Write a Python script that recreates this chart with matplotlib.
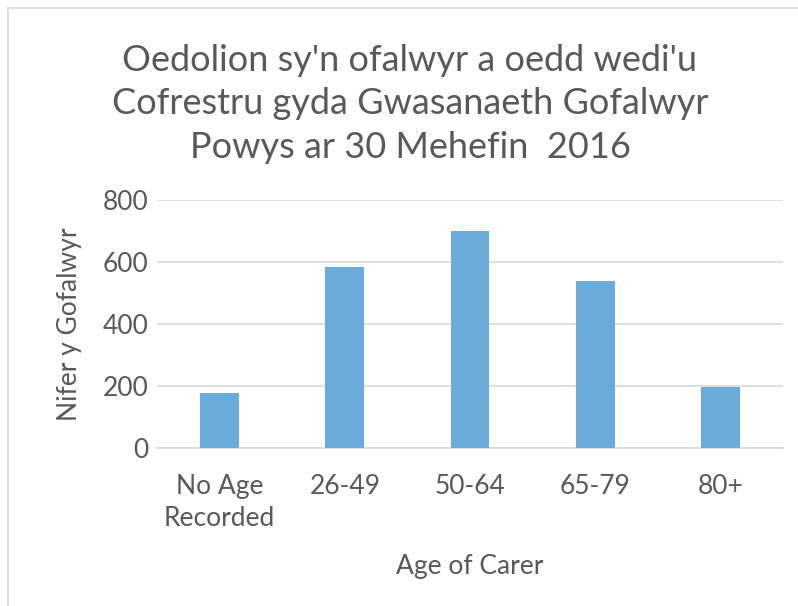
import matplotlib
matplotlib.use('Agg')
import matplotlib.pyplot as plt
from matplotlib.patches import Rectangle

plt.rcParams['font.family'] = ['Lato', 'DejaVu Sans']

categories = ['No Age\nRecorded', '26-49', '50-64', '65-79', '80+']
values = [177, 584, 700, 538, 198]
yticks = [0, 200, 400, 600, 800]

title = "Oedolion sy'n ofalwyr a oedd wedi'u\nCofrestru gyda Gwasanaeth Gofalwyr\nPowys ar 30 Mehefin  2016"
xlabel = 'Age of Carer'
ylabel = 'Nifer y Gofalwyr'

txt = '#595959'
grid = '#d9d9d9'

fig = plt.figure(figsize=(7.98, 6.06), dpi=100)
ax = fig.add_axes([157/798, 1 - 448/606, (783-157)/798, (448-200)/606])

x = range(len(categories))
ax.bar(x, values, width=0.31, color='#6aabdc', zorder=3)

ax.set_xlim(-0.5, len(categories) - 0.5)
ax.set_ylim(0, 800)
ax.set_yticks(yticks)
ax.set_xticks(list(x))
ax.set_xticklabels(categories, linespacing=1.35)
ax.tick_params(axis='both', length=0, labelsize=19, colors=txt)
ax.tick_params(axis='x', pad=19)
ax.tick_params(axis='y', pad=6)
ax.grid(axis='y', color=grid, linewidth=1.2, zorder=0)
for s in ['top', 'right', 'left']:
    ax.spines[s].set_visible(False)
ax.spines['bottom'].set_color(grid)
ax.spines['bottom'].set_linewidth(1.2)

ax.set_xlabel(xlabel, fontsize=19, color=txt, labelpad=16)
ax.set_ylabel(ylabel, fontsize=19, color=txt, labelpad=15)

fig.text(410/798, 1 - 104/606, title, ha='center', va='center', fontsize=26,
         color=txt, linespacing=1.4)

# chart area border
fig.patches.append(Rectangle((8/798, -0.1), 1.2, 1 - 8/606 + 0.1, transform=fig.transFigure,
                             fill=False, edgecolor='#d9d9d9', linewidth=1.2))

fig.savefig('out.png', dpi=100)
